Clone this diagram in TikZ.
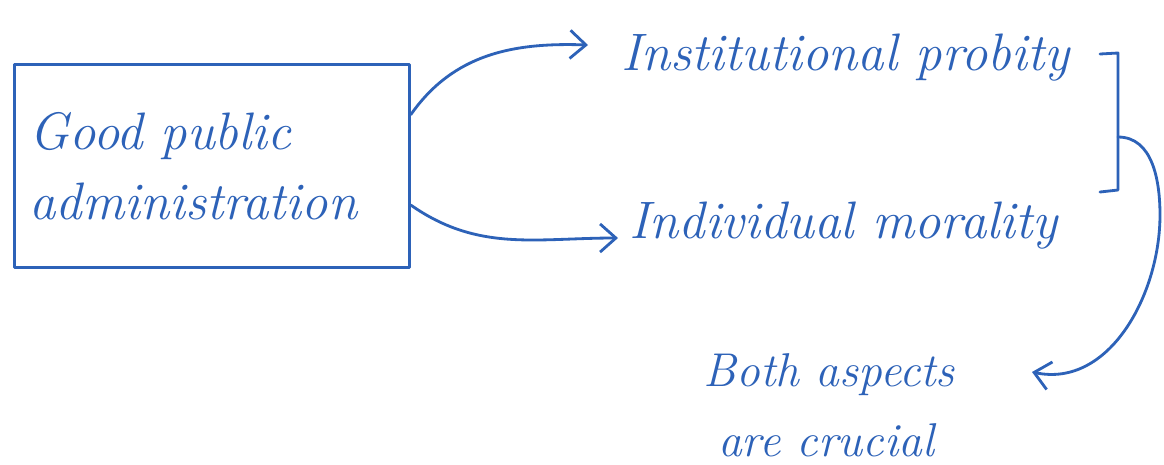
\documentclass[tikz,border=0pt]{standalone}
\usepackage{tikz}
\usetikzlibrary{positioning, arrows.meta, calc}
\definecolor{ink}{HTML}{2D62B8}
\tikzset{
  x=0.02cm, y=-0.02cm,
  pen/.style={draw=ink, line width=1.6pt, line cap=round, line join=round},
  link/.style={pen, -{Straight Barb[length=9pt, width=16pt, line width=1.6pt]}},
  hand/.style={text=ink, font=\fontsize{30}{40}\selectfont\itshape, inner sep=2pt},
}

\begin{document}
\begin{tikzpicture}
    \useasboundingbox[fill=white] (0,0) rectangle (1164,464);

    % labels
    \node[hand, pen, minimum height=4.06cm, text width=7.3cm, inner xsep=0.3cm, align=left] (gpa) at (212,166) {Good public\\administration};
    \node[hand, anchor=west] (inst) at (618,58) {Institutional probity};
    \node[hand, anchor=west] (indiv) at (626,226) {Individual morality};
    \node[hand, font=\fontsize{27}{40}\selectfont\itshape, align=left, anchor=west] (both) at (700,405) {Both aspects\\\hspace{0.3em}are crucial};

    % bracket
    \coordinate (brtop) at (1118,53);
    \coordinate (brbot) at (1118,190);
    \coordinate (brmid) at (1118,137);
    \coordinate (tipboth) at (1032,372);
    \draw[pen] ($(brtop)+(-18,1)$) -- (brtop) -- (brbot) -- ++(-18,2);

    % arrows
    \draw[link] ($(gpa.north east)!0.25!(gpa.south east)$) to[out=55, in=178] ($(inst.west)+(-30,-13)$);
    \draw[link] ($(gpa.north east)!0.69!(gpa.south east)$) to[out=-35, in=180] ($(indiv.west)+(-8,12)$);
    \draw[link] (brmid) to[out=0, in=90] (1160,215) to[out=-90, in=-12] (tipboth);
\end{tikzpicture}
\end{document}
